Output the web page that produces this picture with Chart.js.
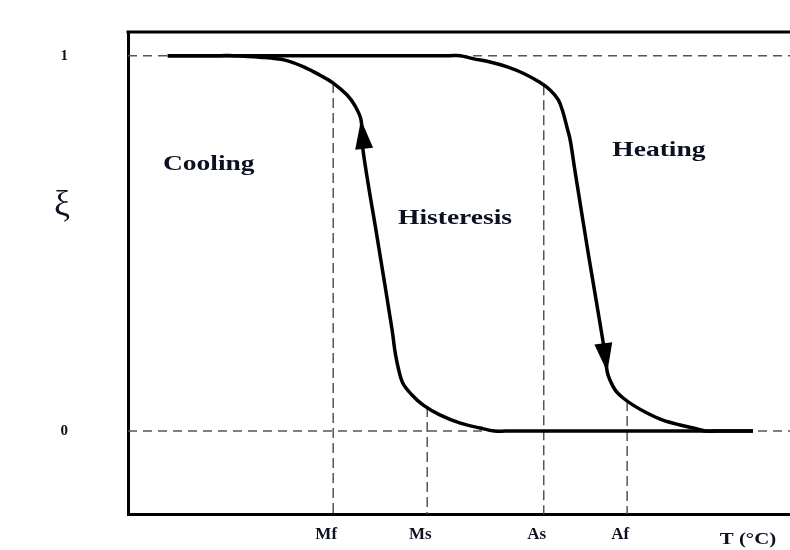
<!DOCTYPE html>
<html>
<head>
<meta charset="utf-8">
<script src="https://cdn.jsdelivr.net/npm/chart.js@4.4.1/dist/chart.umd.min.js"></script>
<style>
  html, body { margin: 0; padding: 0; background: #fff; }
  #wrap { width: 790px; height: 550px; }
</style>
</head>
<body>
<div id="wrap"><canvas id="chart" width="790" height="550"></canvas></div>
<script>
// cooling branch, T in arbitrary units (0..100), xi = martensite fraction
const coolT  = [6.0, 14.0, 15.9, 19.9, 23.7, 26.7, 29.0, 31.0, 33.1, 34.3, 35.2, 35.5, 37.7, 39.9, 40.3, 40.8, 41.5, 42.9, 44.6, 47.1, 50.2, 53.2, 55.4, 57.0, 94.4];
const coolXi = [1.0, 1.0, 1.0, 0.996, 0.988, 0.969, 0.948, 0.927, 0.895, 0.866, 0.829, 0.748, 0.509, 0.269, 0.216, 0.170, 0.128, 0.096, 0.069, 0.043, 0.021, 0.008, 0, 0, 0];

// heating branch
const heatT  = [6.0, 48.6, 50.2, 52.1, 54.7, 57.3, 59.7, 62.2, 63.8, 65.0, 65.7, 66.3, 66.8, 67.5, 69.6, 71.8, 72.4, 72.8, 73.6, 74.8, 76.3, 78.4, 80.8, 83.4, 85.4, 87.2, 88.8, 94.4];
const heatXi = [1.0, 1.0, 1.0, 0.992, 0.983, 0.970, 0.953, 0.929, 0.908, 0.882, 0.850, 0.810, 0.775, 0.695, 0.465, 0.234, 0.157, 0.136, 0.109, 0.088, 0.069, 0.048, 0.029, 0.016, 0.008, 0, 0, 0];

// transformation temperatures (tick labels) and where their guide meets the curve
const tempLabels = ['Mf', 'Ms', 'As', 'Af'];
const tempValues = [31.0, 45.2, 62.8, 75.4];
const tempTops   = [0.927, 0.064, 0.921, 0.080];
const xiTicks = [0, 1];

// arrow heads: tip and the point the arrow comes from
const arrowTipT   = [35.2, 72.4];
const arrowTipXi  = [0.829, 0.157];
const arrowFromT  = [36.1, 71.8];
const arrowFromXi = [0.682, 0.234];

// region labels
const regionText = ['Cooling', 'Histeresis', 'Heating'];
const regionT    = [12.2, 49.4, 80.2];
const regionXi   = [0.711, 0.567, 0.748];

const serif = '"Liberation Serif", "Times New Roman", serif';
const inkColor = '#0d1020';

const toPoints = (xs, ys) => xs.map((v, i) => ({ x: v, y: ys[i] }));

function stretchText(ctx, text, x, y, sx) {
    ctx.save();
    ctx.translate(x, y);
    ctx.scale(sx, 1);
    ctx.fillText(text, 0, 0);
    ctx.restore();
}

const decorations = {
    id: 'decorations',
    afterDatasetsDraw(chart) {
        const { ctx, chartArea, scales: { x, y } } = chart;
        ctx.save();

        // top frame line
        ctx.strokeStyle = '#000';
        ctx.lineWidth = 3;
        ctx.beginPath();
        ctx.moveTo(chartArea.left - 1.5, chartArea.top);
        ctx.lineTo(chartArea.right, chartArea.top);
        ctx.stroke();

        // arrow heads
        ctx.fillStyle = '#000';
        arrowTipT.forEach((t, i) => {
            const tx = x.getPixelForValue(t), ty = y.getPixelForValue(arrowTipXi[i]);
            const fx = x.getPixelForValue(arrowFromT[i]), fy = y.getPixelForValue(arrowFromXi[i]);
            const a = Math.atan2(ty - fy, tx - fx);
            const len = 29, half = 9;
            const bx = tx - Math.cos(a) * len, by = ty - Math.sin(a) * len;
            ctx.beginPath();
            ctx.moveTo(tx, ty);
            ctx.lineTo(bx + Math.sin(a) * half, by - Math.cos(a) * half);
            ctx.lineTo(bx - Math.sin(a) * half, by + Math.cos(a) * half);
            ctx.closePath();
            ctx.fill();
        });

        // region labels
        ctx.fillStyle = inkColor;
        ctx.textAlign = 'center';
        ctx.textBaseline = 'middle';
        ctx.font = 'bold 22px ' + serif;
        regionText.forEach((txt, i) => {
            stretchText(ctx, txt, x.getPixelForValue(regionT[i]), y.getPixelForValue(regionXi[i]), 1.25);
        });

        // axis names
        ctx.font = 'bold 16px ' + serif;
        stretchText(ctx, 'T (°C)', 748, 540, 1.3);
        ctx.font = '36px ' + serif;
        ctx.fillText('ξ', 62, 206);

        ctx.restore();
    }
};

const curveStyle = {
    borderColor: '#000',
    borderWidth: 3.5,
    pointRadius: 0,
    fill: false,
    tension: 0.35
};

const guideStyle = {
    borderColor: '#555',
    borderWidth: 1.5,
    borderDash: [9, 6],
    pointRadius: 0,
    fill: false,
    tension: 0
};

const datasets = [
    { label: 'Cooling', data: toPoints(coolT, coolXi), ...curveStyle },
    { label: 'Heating', data: toPoints(heatT, heatXi), ...curveStyle },
    { label: 'xi=1', data: toPoints([0, 100], [1, 1]), ...guideStyle },
    { label: 'xi=0', data: toPoints([0, 100], [0, 0]), ...guideStyle }
];
tempValues.forEach((t, i) => {
    datasets.push({
        label: tempLabels[i],
        data: toPoints([t, t], [tempTops[i], -0.25]),
        ...guideStyle,
        borderDash: [10, 5]
    });
});

new Chart(document.getElementById('chart'), {
    type: 'line',
    data: { datasets },
    options: {
        responsive: false,
        animation: false,
        layout: { padding: { top: 32, right: 0, bottom: 0, left: 0 } },
        plugins: {
            legend: { display: false },
            tooltip: { enabled: false }
        },
        scales: {
            x: {
                type: 'linear',
                min: 0,
                max: 100,
                afterFit: s => { s.height = 36; s.paddingLeft = 0; s.paddingRight = 0; },
                afterBuildTicks: s => { s.ticks = tempValues.map(v => ({ value: v })); },
                grid: { display: false, drawTicks: false },
                border: { display: true, color: '#000', width: 3 },
                ticks: {
                    autoSkip: false,
                    maxRotation: 0,
                    padding: 10,
                    labelOffset: -7,
                    color: inkColor,
                    font: { family: serif, size: 17, weight: 'bold' },
                    callback: (v, i) => tempLabels[i]
                }
            },
            y: {
                type: 'linear',
                min: -0.221,
                max: 1.063,
                afterFit: s => { s.width = 128; s.paddingTop = 0; s.paddingBottom = 0; },
                afterBuildTicks: s => { s.ticks = xiTicks.map(v => ({ value: v })); },
                grid: { display: false, drawTicks: false },
                border: { display: true, color: '#000', width: 3 },
                ticks: {
                    padding: 60,
                    color: inkColor,
                    font: { family: serif, size: 15, weight: 'bold' },
                    callback: v => String(v)
                }
            }
        }
    },
    plugins: [decorations]
});
</script>
</body>
</html>
